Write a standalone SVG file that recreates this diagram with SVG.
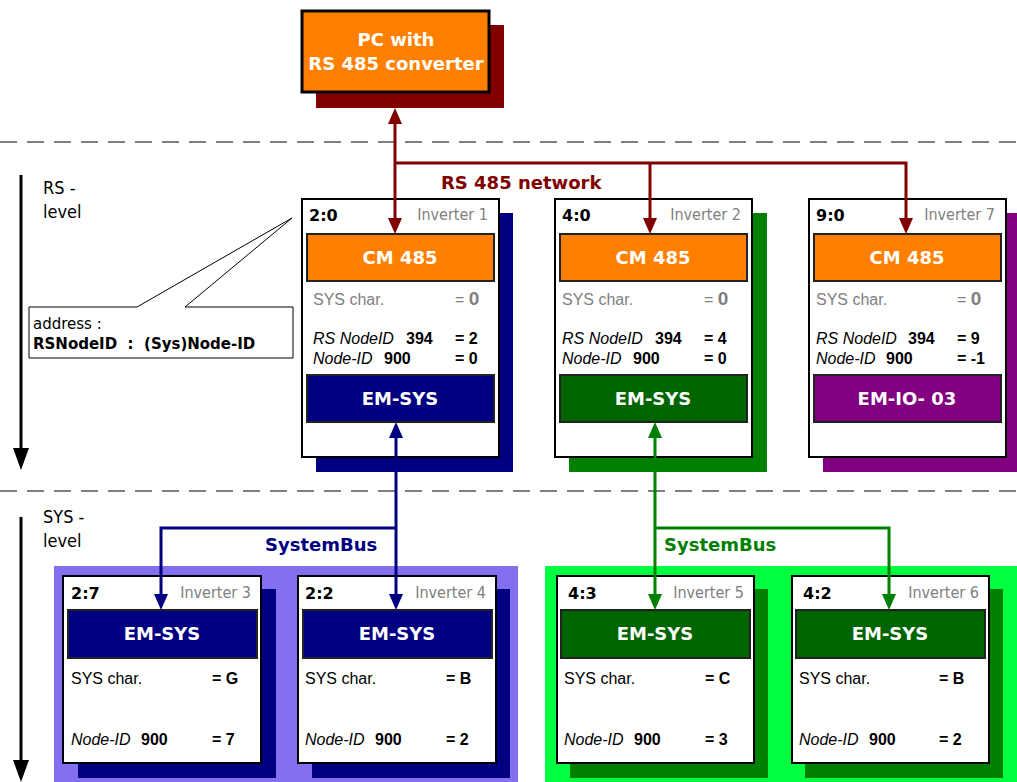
<svg xmlns="http://www.w3.org/2000/svg" width="1017" height="782" viewBox="0 0 1017 782">
<style>
.t{font-family:"DejaVu Sans",Verdana,sans-serif}
.tc{font-family:"DejaVu Sans Condensed","DejaVu Sans",sans-serif;font-stretch:condensed}
.a{font-family:"Liberation Sans",Arial,sans-serif}
.hb{font-weight:bold;fill:#fff;font-size:18px;text-anchor:middle}
.id{font-weight:bold;font-size:16px;fill:#000}
.inv{font-size:16px;fill:#808080;text-anchor:end}
.g{fill:#808080;font-size:16px}
.k{fill:#000;font-size:16px}
.b{font-weight:bold}
.i{font-style:italic}
.box{fill:#fff;stroke:#000;stroke-width:2}
.bar{stroke:#222;stroke-width:2}
.lvl{font-size:18px;fill:#000}
.rs{stroke:#800000;stroke-width:3;fill:none}
.bl{stroke:#000080;stroke-width:3;fill:none}
.gr{stroke:#008000;stroke-width:3;fill:none}
.dash{stroke:#000;stroke-width:1;stroke-dasharray:17 10}
</style>
<defs>
<marker id="mr" markerUnits="userSpaceOnUse" markerWidth="16" markerHeight="14" refX="4" refY="7" orient="auto-start-reverse"><path d="M0,0 L16,7 L0,14 z" fill="#800000"/></marker>
<marker id="mb" markerUnits="userSpaceOnUse" markerWidth="16" markerHeight="14" refX="4" refY="7" orient="auto-start-reverse"><path d="M0,0 L16,7 L0,14 z" fill="#000080"/></marker>
<marker id="mg" markerUnits="userSpaceOnUse" markerWidth="16" markerHeight="14" refX="4" refY="7" orient="auto-start-reverse"><path d="M0,0 L16,7 L0,14 z" fill="#008000"/></marker>
<marker id="mk" markerUnits="userSpaceOnUse" markerWidth="22" markerHeight="16" refX="2" refY="8" orient="auto"><path d="M0,0 L22,8 L0,16 z" fill="#000"/></marker>
</defs>
<rect width="1017" height="782" fill="#fff"/>
<!-- dashed separators -->
<line class="dash" x1="0" y1="142" x2="1017" y2="142"/>
<line class="dash" x1="0" y1="491" x2="1017" y2="491"/>
<!-- level indicators -->
<g id="levels">
<line x1="21" y1="175" x2="21" y2="450" stroke="#000" stroke-width="3" marker-end="url(#mk)"/>
<text class="tc lvl" x="43" y="194">RS -</text>
<text class="tc lvl" x="43" y="218">level</text>
<line x1="21" y1="517" x2="21" y2="762" stroke="#000" stroke-width="3" marker-end="url(#mk)"/>
<text class="tc lvl" x="43" y="523">SYS -</text>
<text class="tc lvl" x="43" y="547">level</text>
</g>
<!-- backgrounds -->
<rect x="54" y="566" width="464" height="216" fill="#8270F0"/>
<rect x="545" y="566" width="472" height="216" fill="#00FF40"/>
<!-- PC -->
<g id="pc">
<rect x="316" y="25" width="188" height="83" fill="#800000"/>
<rect x="302" y="11" width="187" height="81" fill="#FF8000" stroke="#000" stroke-width="3"/>
<text class="t hb" x="396" y="46">PC with</text>
<text class="t hb" x="396" y="70">RS 485 converter</text>
</g>
<!-- callout -->
<g id="callout">
<path d="M29,307 L137,307 L292,218 L185,307 L293,307 L293,358 L29,358 Z" fill="#fff" stroke="#000" stroke-width="1"/>
<text class="t" x="33" y="329" font-size="15">address :</text>
<text class="t b" x="33" y="349" font-size="15" style="white-space:pre">RSNodeID  :  (Sys)Node-ID</text>
</g>
<!-- Inverter 1 -->
<g id="inv1">
<rect x="316" y="213" width="197" height="259" fill="#000080"/>
<rect class="box" x="302" y="199" width="197" height="258"/>
<text class="t id" x="309" y="221">2:0</text>
<text class="tc inv" x="488" y="220">Inverter 1</text>
<rect class="bar" x="307" y="234" width="187" height="47" fill="#FF8000"/>
<text class="t hb" x="400" y="264">CM 485</text>
<text class="a g" x="313" y="305">SYS char.</text>
<text class="a g" x="455" y="305">= <tspan class="b" font-size="19">0</tspan></text>
<text class="a k" x="313" y="344"><tspan class="i">RS NodeID</tspan></text>
<text class="a k b" x="406" y="344">394</text>
<text class="a k b" x="455" y="344">= 2</text>
<text class="a k" x="313" y="364"><tspan class="i">Node-ID</tspan></text>
<text class="a k b" x="384" y="364">900</text>
<text class="a k b" x="455" y="364">= 0</text>
<rect class="bar" x="307" y="375" width="187" height="47" fill="#000080"/>
<text class="t hb" x="400" y="405">EM-SYS</text>
</g>
<!-- Inverter 2 -->
<g id="inv2">
<rect x="569" y="213" width="198" height="259" fill="#008000"/>
<rect class="box" x="555" y="199" width="197" height="258"/>
<text class="t id" x="562" y="221">4:0</text>
<text class="tc inv" x="741" y="220">Inverter 2</text>
<rect class="bar" x="560" y="234" width="187" height="47" fill="#FF8000"/>
<text class="t hb" x="653" y="264">CM 485</text>
<text class="a g" x="562" y="305">SYS char.</text>
<text class="a g" x="704" y="305">= <tspan class="b" font-size="19">0</tspan></text>
<text class="a k" x="562" y="344"><tspan class="i">RS NodeID</tspan></text>
<text class="a k b" x="655" y="344">394</text>
<text class="a k b" x="704" y="344">= 4</text>
<text class="a k" x="562" y="364"><tspan class="i">Node-ID</tspan></text>
<text class="a k b" x="633" y="364">900</text>
<text class="a k b" x="704" y="364">= 0</text>
<rect class="bar" x="560" y="375" width="187" height="47" fill="#006400"/>
<text class="t hb" x="653" y="405">EM-SYS</text>
</g>
<!-- Inverter 7 -->
<g id="inv7">
<rect x="823" y="213" width="194" height="259" fill="#800080"/>
<rect class="box" x="809" y="199" width="197" height="258"/>
<text class="t id" x="816" y="221">9:0</text>
<text class="tc inv" x="995" y="220">Inverter 7</text>
<rect class="bar" x="814" y="234" width="187" height="47" fill="#FF8000"/>
<text class="t hb" x="907" y="264">CM 485</text>
<text class="a g" x="816" y="305">SYS char.</text>
<text class="a g" x="957" y="305">= <tspan class="b" font-size="19">0</tspan></text>
<text class="a k" x="816" y="344"><tspan class="i">RS NodeID</tspan></text>
<text class="a k b" x="908" y="344">394</text>
<text class="a k b" x="957" y="344">= 9</text>
<text class="a k" x="816" y="364"><tspan class="i">Node-ID</tspan></text>
<text class="a k b" x="886" y="364">900</text>
<text class="a k b" x="957" y="364">= -1</text>
<rect class="bar" x="814" y="375" width="187" height="47" fill="#800080"/>
<text class="t hb" x="907" y="405">EM-IO- 03</text>
</g>
<!-- Inverter 3 -->
<g id="inv3">
<rect x="78" y="589" width="198" height="189" fill="#000080"/>
<rect class="box" x="63" y="576" width="198" height="187"/>
<text class="t id" x="71" y="599">2:7</text>
<text class="tc inv" x="251" y="598">Inverter 3</text>
<rect class="bar" x="68" y="610" width="189" height="48" fill="#000080"/>
<text class="t hb" x="162" y="640">EM-SYS</text>
<text class="a k" x="71" y="684">SYS char.</text>
<text class="a k b" x="212" y="684">= G</text>
<text class="a k i" x="71" y="745">Node-ID</text>
<text class="a k b" x="141" y="745">900</text>
<text class="a k b" x="212" y="745">= 7</text>
</g>
<!-- Inverter 4 -->
<g id="inv4">
<rect x="312" y="589" width="198" height="189" fill="#000080"/>
<rect class="box" x="298" y="576" width="198" height="187"/>
<text class="t id" x="305" y="599">2:2</text>
<text class="tc inv" x="486" y="598">Inverter 4</text>
<rect class="bar" x="303" y="610" width="189" height="48" fill="#000080"/>
<text class="t hb" x="397" y="640">EM-SYS</text>
<text class="a k" x="305" y="684">SYS char.</text>
<text class="a k b" x="446" y="684">= B</text>
<text class="a k i" x="305" y="745">Node-ID</text>
<text class="a k b" x="375" y="745">900</text>
<text class="a k b" x="446" y="745">= 2</text>
</g>
<!-- Inverter 5 -->
<g id="inv5">
<rect x="570" y="589" width="198" height="189" fill="#008000"/>
<rect class="box" x="557" y="576" width="197" height="187"/>
<text class="t id" x="568" y="599">4:3</text>
<text class="tc inv" x="744" y="598">Inverter 5</text>
<rect class="bar" x="561" y="610" width="189" height="48" fill="#006400"/>
<text class="t hb" x="655" y="640">EM-SYS</text>
<text class="a k" x="564" y="684">SYS char.</text>
<text class="a k b" x="705" y="684">= C</text>
<text class="a k i" x="564" y="745">Node-ID</text>
<text class="a k b" x="634" y="745">900</text>
<text class="a k b" x="705" y="745">= 3</text>
</g>
<!-- Inverter 6 -->
<g id="inv6">
<rect x="805" y="589" width="198" height="189" fill="#008000"/>
<rect class="box" x="792" y="576" width="197" height="187"/>
<text class="t id" x="803" y="599">4:2</text>
<text class="tc inv" x="979" y="598">Inverter 6</text>
<rect class="bar" x="796" y="610" width="189" height="48" fill="#006400"/>
<text class="t hb" x="890" y="640">EM-SYS</text>
<text class="a k" x="799" y="684">SYS char.</text>
<text class="a k b" x="939" y="684">= B</text>
<text class="a k i" x="799" y="745">Node-ID</text>
<text class="a k b" x="869" y="745">900</text>
<text class="a k b" x="939" y="745">= 2</text>
</g>
<!-- connectors -->
<g id="connectors">
<path class="rs" d="M395,120 L395,222" marker-start="url(#mr)" marker-end="url(#mr)"/>
<path class="rs" d="M395,163 L906,163 L906,222" marker-end="url(#mr)"/>
<path class="rs" d="M650,163 L650,222" marker-end="url(#mr)"/>
<text class="t b" x="441" y="189" font-size="18" fill="#800000">RS 485 network</text>
<path class="bl" d="M396,434 L396,598" marker-start="url(#mb)" marker-end="url(#mb)"/>
<path class="bl" d="M396,528 L161,528 L161,598" marker-end="url(#mb)"/>
<text class="t b" x="265" y="551" font-size="18" fill="#000080">SystemBus</text>
<path class="gr" d="M655,434 L655,598" marker-start="url(#mg)" marker-end="url(#mg)"/>
<path class="gr" d="M655,528 L889,528 L889,598" marker-end="url(#mg)"/>
<text class="t b" x="664" y="551" font-size="18" fill="#008000">SystemBus</text>
</g>
</svg>
